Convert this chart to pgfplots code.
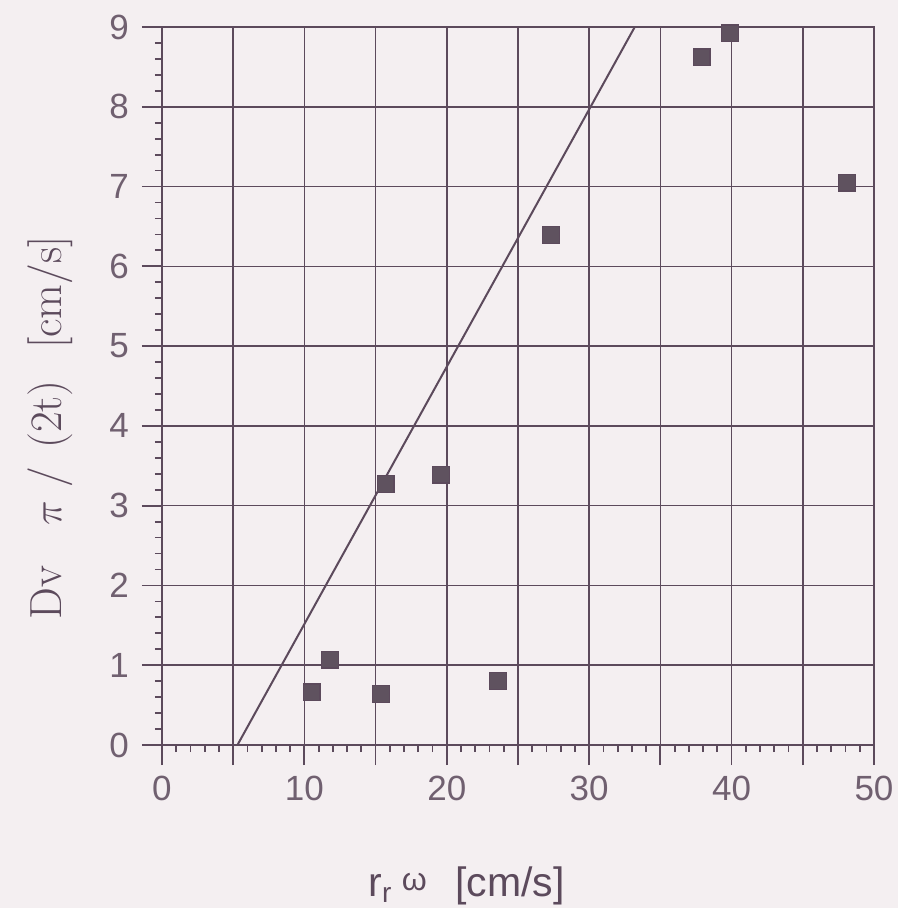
\documentclass[border=0pt]{standalone}
\usepackage{pgfplots}
\pgfplotsset{compat=1.18}
\usepackage{fontspec}
\newfontfamily\sans{Liberation Sans}
\usetikzlibrary{backgrounds}
\definecolor{lc}{RGB}{92,74,92}
\definecolor{tc}{RGB}{112,96,112}
\definecolor{bg}{RGB}{244,239,241}
\definecolor{mk}{RGB}{95,82,95}

\begin{document}
\begin{tikzpicture}
\begin{axis}[
  scale only axis, width=356pt, height=359pt,
  xmin=0, xmax=50, ymin=0, ymax=9,
  xtick={0,5,...,50}, xticklabels={0,,10,,20,,30,,40,,50},
  ytick={0,1,...,9},
  xtick pos=bottom, ytick pos=left,
  minor tick num=4,
  tick align=outside,
  major tick length=10pt, minor tick length=3.5pt,
  tick style={lc, line width=0.9pt},
  axis line style={lc, line width=1pt},
  grid=major, grid style={lc, line width=0.8pt},
  /pgf/number format/assume math mode=true,
  ticklabel style={font=\sans\fontsize{17.5}{20}\selectfont, text=tc},
  xticklabel style={yshift=-2pt},
  yticklabel style={xshift=-3pt},
  xlabel={r\raisebox{-0.3ex}{\fontsize{14}{15}\selectfont r}\hspace{0.25em}\raisebox{0.25ex}{\fontsize{16}{17}\selectfont ω}\hspace{0.7em}[cm/s]},
  xlabel style={font=\sans\fontsize{20.5}{23}\selectfont, text=lc, at={(axis description cs:0.428,-0.196)}, anchor=center},
  ylabel={Dv\hspace{0.9em}$\pi$\hspace{0.3em}/\hspace{0.4em}(2t)\hspace{0.7em}[cm/s]},
  ylabel style={font=\fontsize{22.5}{25}\selectfont, text=lc, at={(axis description cs:-0.157,0.4415)}, anchor=center},
  clip=false,
]
\coordinate (bl) at (axis description cs:-0.2275,-0.227);
\coordinate (tr) at (axis description cs:1.0337,1.0376);
\addplot[lc, line width=1pt] coordinates {(5.3,0) (33.2,9)};
\addplot[only marks, mark=square*, mark size=4.2pt,
  mark options={draw=lc, fill=mk, line width=0.6pt}] coordinates {
  (10.5,0.66) (11.8,1.07) (15.4,0.64) (15.7,3.27) (19.6,3.39)
  (23.6,0.80) (27.3,6.39) (37.9,8.62) (39.9,8.92) (48.1,7.05)
};
\end{axis}
\begin{scope}[on background layer]
\fill[bg] (bl) rectangle (tr);
\end{scope}
\pgfresetboundingbox
\useasboundingbox (bl) rectangle (tr);
\end{tikzpicture}
\end{document}
